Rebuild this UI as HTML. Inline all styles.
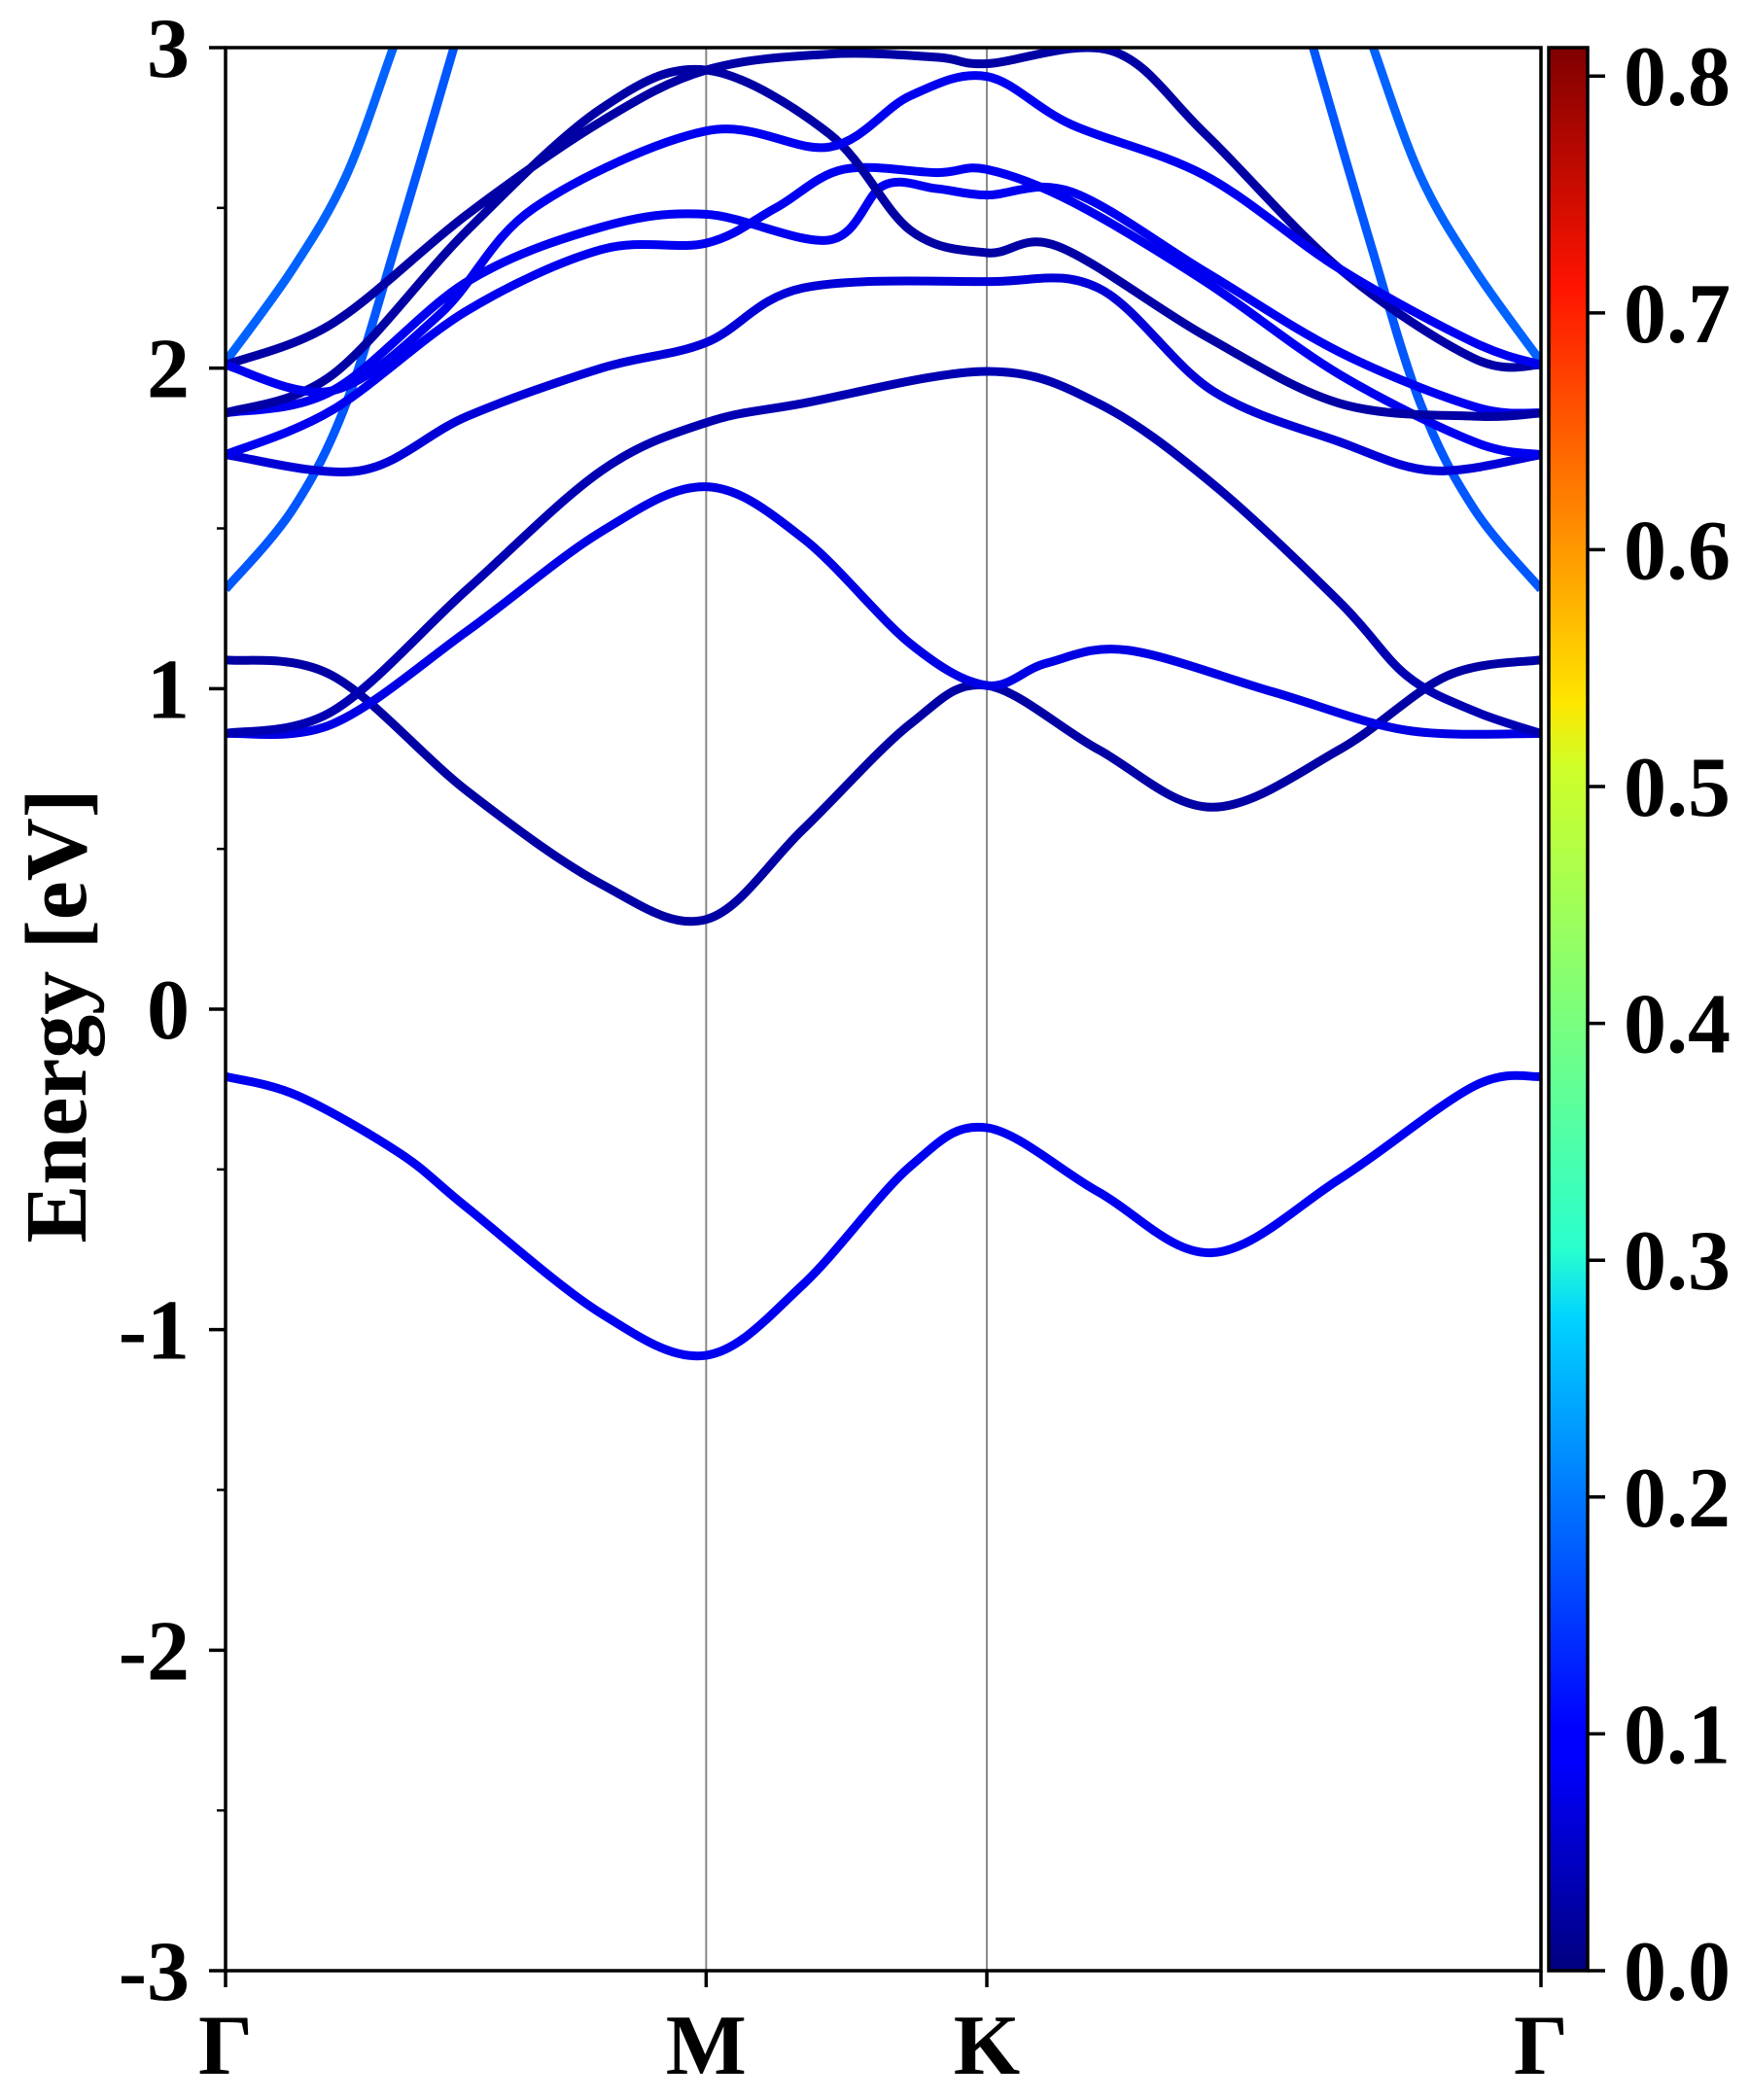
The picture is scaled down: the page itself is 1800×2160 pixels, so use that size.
<!DOCTYPE html>
<html><head><meta charset="utf-8">
<style>
html,body{margin:0;padding:0;background:#fff;}
svg{display:block;}
text{font-family:"Liberation Serif",serif;font-weight:bold;fill:#000;}
</style></head>
<body>
<svg id="chart" width="1800" height="2160" viewBox="0 0 1800 2160" xmlns="http://www.w3.org/2000/svg">
<defs>
<linearGradient id="jet" x1="0" y1="1" x2="0" y2="0">
<stop offset="0" stop-color="#00007f"/>
<stop offset="0.11" stop-color="#0000ff"/>
<stop offset="0.125" stop-color="#0000ff"/>
<stop offset="0.34" stop-color="#00d4ff"/>
<stop offset="0.375" stop-color="#29ffce"/>
<stop offset="0.5" stop-color="#7dff7a"/>
<stop offset="0.625" stop-color="#ceff29"/>
<stop offset="0.66" stop-color="#ffe500"/>
<stop offset="0.875" stop-color="#ff1400"/>
<stop offset="1" stop-color="#7f0000"/>
</linearGradient>
<clipPath id="plotclip"><rect x="232" y="49" width="1353" height="1978"/></clipPath>
</defs>
<g id="grid"></g>
<g id="bands" clip-path="url(#plotclip)"></g>
<rect x="232" y="49" width="1353" height="1978" fill="none" stroke="#000" stroke-width="3.5"/>
<g id="axes"></g>
<text x="0" y="0" font-size="90" text-anchor="middle" transform="translate(88,1045) rotate(-90)">Energy [eV]</text>
<rect x="1593" y="49" width="40" height="1978" fill="url(#jet)" stroke="#000" stroke-width="3.5"/>
<g id="cbticks"></g>
</svg>
<script>
const kLabels = ["Γ","M","K","Γ"];
const kPositions = [0, 1, 1.584, 2.737];
const yTicks = [-3,-2,-1,0,1,2,3];
const yMinor = [-2.5,-1.5,-0.5,0.5,1.5,2.5];
const cbTicks = [0.0,0.1,0.2,0.3,0.4,0.5,0.6,0.7,0.8];
const cbMax = 0.812;
// band k coordinates (path distance units) and energies (eV)
const bandK = [
 [0,0.15,0.363,0.503,0.782,1,1.201,1.425,1.584,1.816,2.053,2.318,2.598,2.737],
 [0,0.223,0.503,0.782,1,1.201,1.425,1.584,1.816,2.053,2.318,2.542,2.737],
 [0,0.223,0.503,0.782,1,1.201,1.425,1.584,1.709,1.877,2.179,2.458,2.737],
 [0,0.223,0.503,0.782,1,1.201,1.584,1.816,2.053,2.318,2.458,2.598,2.737],
 [0,0.140,0.251,0.363,0.475],
 [2.737,2.598,2.486,2.374,2.263],
 [0,0.140,0.251,0.349,0.42],
 [2.737,2.598,2.486,2.388,2.32],
 [0,0.279,0.503,0.782,1,1.201,1.584,1.816,2.053,2.318,2.514,2.737],
 [0,0.223,0.503,0.782,1,1.145,1.285,1.480,1.584,1.760,2.039,2.318,2.598,2.737],
 [0,0.223,0.503,0.782,1,1.257,1.369,1.480,1.584,1.760,2.039,2.318,2.598,2.737],
 [0,0.223,0.503,0.782,1,1.257,1.425,1.584,1.732,2.039,2.318,2.598,2.737],
 [0,0.223,0.503,0.782,1,1.257,1.480,1.584,1.844,2.039,2.318,2.598,2.737],
 [0,0.223,0.447,0.642,1,1.257,1.425,1.584,1.760,2.039,2.318,2.598,2.737]
];
const bandE = [
 [-0.21,-0.27,-0.45,-0.62,-0.95,-1.08,-0.86,-0.49,-0.37,-0.57,-0.76,-0.53,-0.24,-0.21],
 [1.09,1.04,0.68,0.39,0.28,0.56,0.89,1.01,0.81,0.63,0.81,1.04,1.09],
 [0.86,0.89,1.18,1.49,1.63,1.47,1.14,1.01,1.08,1.12,0.99,0.87,0.86],
 [0.86,0.93,1.31,1.68,1.83,1.89,1.99,1.89,1.64,1.27,1.04,0.93,0.86],
 [1.31,1.56,1.89,2.43,3.0],
 [1.31,1.56,1.89,2.43,3.0],
 [2.02,2.31,2.6,3.0,3.3],
 [2.02,2.31,2.6,3.0,3.3],
 [1.73,1.68,1.85,2.0,2.08,2.25,2.27,2.25,1.93,1.77,1.68,1.73],
 [1.73,1.87,2.18,2.37,2.39,2.5,2.62,2.61,2.62,2.52,2.27,1.98,1.77,1.73],
 [1.86,1.93,2.27,2.44,2.48,2.40,2.57,2.56,2.54,2.55,2.30,2.05,1.88,1.86],
 [1.86,1.98,2.43,2.81,2.93,2.73,2.43,2.36,2.38,2.10,1.89,1.85,1.86],
 [2.01,2.14,2.48,2.77,2.93,2.98,2.97,2.95,2.99,2.73,2.31,2.03,2.01],
 [2.01,1.93,2.17,2.5,2.74,2.69,2.85,2.91,2.76,2.60,2.31,2.08,2.01]
];
const bandWeight = [0.09,0.03,0.08,0.04,0.17,0.17,0.18,0.18,0.07,0.09,0.09,0.03,0.03,0.09];

const X0=232,X1=1585,Y0=2027,Y1=49;
function xs(k){return X0+(k/2.737)*(X1-X0);}
function ys(e){return Y0-(e+3)/6*(Y0-Y1);}
function jet(t){
  const f=x=>Math.max(0,Math.min(1,x));
  const r=f(Math.min(4*t-1.5,-4*t+4.5)), g=f(Math.min(4*t-0.5,-4*t+3.5)), b=f(Math.min(4*t+0.5,-4*t+2.5));
  return `rgb(${Math.round(r*255)},${Math.round(g*255)},${Math.round(b*255)})`;
}
const NS="http://www.w3.org/2000/svg";
const grid=document.getElementById('grid');
kPositions.slice(1,3).forEach((k)=>{
  const l=document.createElementNS(NS,'line');
  
  
  l.setAttribute('x1',xs(k));l.setAttribute('x2',xs(k));
  l.setAttribute('y1',Y1);l.setAttribute('y2',Y0);
  l.setAttribute('stroke','#888');l.setAttribute('stroke-width','2');
  grid.appendChild(l);
});
const bandsG=document.getElementById('bands');
bandK.forEach((ks,bi)=>{
  const pts=ks.map((k,i)=>[xs(k),ys(bandE[bi][i])]);
  let d=`M${pts[0][0]},${pts[0][1]}`;
  for(let i=0;i<pts.length-1;i++){
    const p0=pts[Math.max(0,i-1)],p1=pts[i],p2=pts[i+1],p3=pts[Math.min(pts.length-1,i+2)];
    const c1=[p1[0]+(p2[0]-p0[0])/6,p1[1]+(p2[1]-p0[1])/6];
    const c2=[p2[0]-(p3[0]-p1[0])/6,p2[1]-(p3[1]-p1[1])/6];
    d+=` C${c1[0]},${c1[1]} ${c2[0]},${c2[1]} ${p2[0]},${p2[1]}`;
  }
  const p=document.createElementNS(NS,'path');
  
  
  p.setAttribute('d',d);p.setAttribute('fill','none');
  p.setAttribute('stroke',jet(bandWeight[bi]/cbMax));
  p.setAttribute('stroke-width','9');
  bandsG.appendChild(p);
});
const axes=document.getElementById('axes');
yTicks.forEach(v=>{
  const l=document.createElementNS(NS,'line');
  
  
  l.setAttribute('x1',X0-17);l.setAttribute('x2',X0);l.setAttribute('y1',ys(v));l.setAttribute('y2',ys(v));
  l.setAttribute('stroke','#000');l.setAttribute('stroke-width','3.5');
  axes.appendChild(l);
  const t=document.createElementNS(NS,'text');
  
  
  t.setAttribute('x',195);t.setAttribute('y',ys(v)+30);t.setAttribute('text-anchor','end');t.setAttribute('font-size','88');
  t.textContent=String(v);
  axes.appendChild(t);
});
yMinor.forEach(v=>{
  const l=document.createElementNS(NS,'line');
  
  
  l.setAttribute('x1',X0-9);l.setAttribute('x2',X0);l.setAttribute('y1',ys(v));l.setAttribute('y2',ys(v));
  l.setAttribute('stroke','#000');l.setAttribute('stroke-width','2.5');
  axes.appendChild(l);
});
kPositions.forEach((k,i)=>{
  const l=document.createElementNS(NS,'line');
  
  
  l.setAttribute('x1',xs(k));l.setAttribute('x2',xs(k));l.setAttribute('y1',Y0);l.setAttribute('y2',Y0+17);
  l.setAttribute('stroke','#000');l.setAttribute('stroke-width','3.5');
  axes.appendChild(l);
  const t=document.createElementNS(NS,'text');
  
  
  t.setAttribute('x',xs(k));t.setAttribute('y',2133);t.setAttribute('text-anchor','middle');t.setAttribute('font-size','88');
  t.textContent=kLabels[i];
  axes.appendChild(t);
});
const cb=document.getElementById('cbticks');
cbTicks.forEach(v=>{
  const y=Y0-v/cbMax*(Y0-Y1);
  const l=document.createElementNS(NS,'line');
  
  
  l.setAttribute('x1',1633);l.setAttribute('x2',1651);l.setAttribute('y1',y);l.setAttribute('y2',y);
  l.setAttribute('stroke','#000');l.setAttribute('stroke-width','3.5');
  cb.appendChild(l);
  const t=document.createElementNS(NS,'text');
  
  
  t.setAttribute('x',1670);t.setAttribute('y',y+30);t.setAttribute('font-size','88');
  t.textContent=v.toFixed(1);
  cb.appendChild(t);
});
</script>
</body></html>
